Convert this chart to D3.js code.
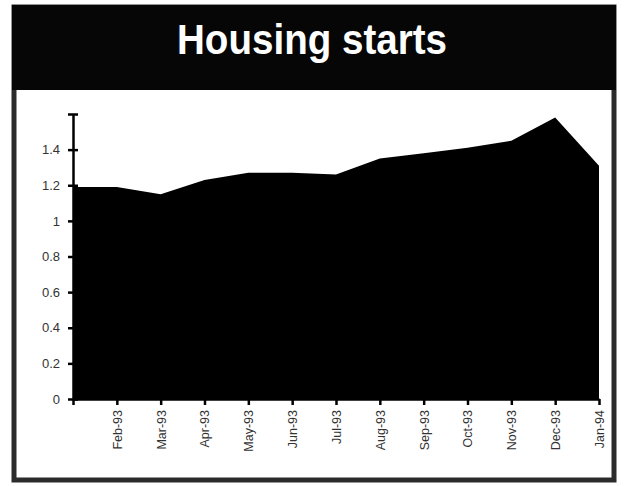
<!DOCTYPE html>
<html>
<head>
<meta charset="utf-8">
<script src="https://cdn.jsdelivr.net/npm/d3@7"></script>
<style>
  body { margin: 0; background: #fff; }
  svg { display: block; font-family: "Liberation Sans", Arial, sans-serif; }
</style>
</head>
<body>
<div id="chart"></div>
<script>
// months on the category axis (first one has no label in the original)
const months = ["Jan-93", "Feb-93", "Mar-93", "Apr-93", "May-93", "Jun-93", "Jul-93",
                "Aug-93", "Sep-93", "Oct-93", "Nov-93", "Dec-93", "Jan-94"];
// housing starts, millions
const starts = [1.19, 1.19, 1.15, 1.23, 1.27, 1.27, 1.26, 1.35, 1.38, 1.41, 1.45, 1.58, 1.31];
const yTicks = [0, 0.2, 0.4, 0.6, 0.8, 1, 1.2, 1.4, 1.6];
const yLabels = ["0", "0.2", "0.4", "0.6", "0.8", "1", "1.2", "1.4", ""];

const width = 624, height = 486;

const svg = d3.select("#chart")
    .append("svg")
    .attr("width", width)
    .attr("height", height);

// outer frame + title bar
svg.append("rect")
    .attr("x", 14).attr("y", 7)
    .attr("width", 600).attr("height", 473)
    .attr("fill", "#fff")
    .attr("stroke", "#2b2b2b")
    .attr("stroke-width", 5);

svg.append("rect")
    .attr("x", 12).attr("y", 5)
    .attr("width", 604).attr("height", 85)
    .attr("fill", "#060606");

svg.append("text")
    .attr("x", 312).attr("y", 54)
    .attr("text-anchor", "middle")
    .attr("fill", "#fff")
    .attr("font-size", 43)
    .attr("font-weight", "bold")
    .attr("textLength", 270)
    .attr("lengthAdjust", "spacingAndGlyphs")
    .text("Housing starts");

// plot area
const margin = { left: 73, right: 599, top: 114, bottom: 399 };

const x = d3.scalePoint()
    .domain(months)
    .range([margin.left, margin.right]);

const y = d3.scaleLinear()
    .domain([0, 1.6])
    .range([margin.bottom, margin.top]);

const area = d3.area()
    .x((d, i) => x(months[i]))
    .y0(y(0))
    .y1(d => y(d));

svg.append("path")
    .datum(starts)
    .attr("d", area)
    .attr("fill", "#000");

// y axis: ticks cross the line
const yAxis = svg.append("g")
    .attr("transform", `translate(${margin.left},0)`)
    .call(d3.axisLeft(y)
        .tickValues(yTicks)
        .tickSize(0)
        .tickPadding(13)
        .tickFormat((d, i) => yLabels[i]));

yAxis.select(".domain").attr("stroke", "#000").attr("stroke-width", 2.5);
yAxis.selectAll(".tick line")
    .attr("x1", -5).attr("x2", 5)
    .attr("stroke", "#000").attr("stroke-width", 2.5);
yAxis.selectAll(".tick text")
    .attr("fill", "#333")
    .attr("font-size", 13);

// x axis
const xAxis = svg.append("g")
    .attr("transform", `translate(0,${margin.bottom})`)
    .call(d3.axisBottom(x)
        .tickSize(6)
        .tickSizeOuter(0)
        .tickFormat((d, i) => i === 0 ? "" : d));

xAxis.select(".domain").attr("stroke", "#000").attr("stroke-width", 2.5);
xAxis.selectAll(".tick line").attr("stroke", "#000").attr("stroke-width", 2.5);
xAxis.selectAll(".tick text")
    .attr("transform", "rotate(-90)")
    .attr("text-anchor", "end")
    .attr("x", -11)
    .attr("y", 0)
    .attr("dy", "0.35em")
    .attr("fill", "#333")
    .attr("font-size", 12.5);
</script>
</body>
</html>
